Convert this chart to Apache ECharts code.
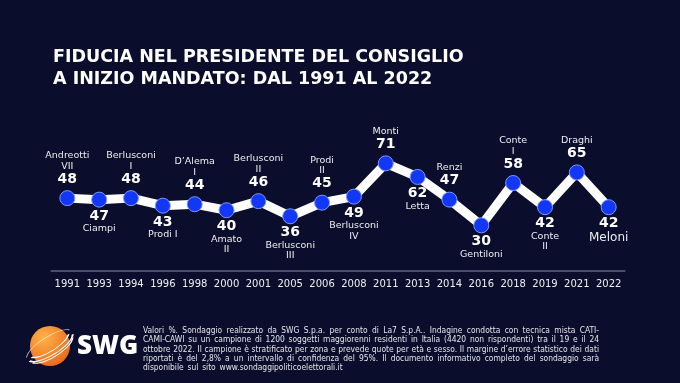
<!DOCTYPE html>
<html>
<head>
<meta charset="utf-8">
<script src="https://cdn.jsdelivr.net/npm/echarts@6/dist/echarts.min.js"></script>
<style>
html,body{margin:0;padding:0;background:#0a0d2b;}
#c{width:680px;height:383px;}
</style>
</head>
<body>
<div id="c"></div>
<script>
const years = ['1991','1993','1994','1996','1998','2000','2001','2005','2006','2008','2011','2013','2014','2016','2018','2019','2021','2022'];
const values = [48,47,48,43,44,40,46,36,45,49,71,62,47,30,58,42,65,42];
const leaders = ['Andreotti\nVII','Ciampi','Berlusconi\nI','Prodi I','D\u2019Alema\nI','Amato\nII','Berlusconi\nII','Berlusconi\nIII','Prodi\nII','Berlusconi\nIV','Monti','Letta','Renzi','Gentiloni','Conte\nI','Conte\nII','Draghi','Meloni'];
const labelSide = ['top','bottom','top','bottom','top','bottom','top','bottom','top','bottom','top','bottom','top','bottom','top','bottom','top','bottom'];
const titleText = 'FIDUCIA NEL PRESIDENTE DEL CONSIGLIO\nA INIZIO MANDATO: DAL 1991 AL 2022';
const footerLines = [
  'Valori %. Sondaggio realizzato da SWG S.p.a. per conto di La7 S.p.A.. Indagine condotta con tecnica mista CATI-',
  'CAMI-CAWI su un campione di 1200 soggetti maggiorenni residenti in Italia (4420 non rispondenti) tra il 19 e il 24',
  'ottobre 2022. Il campione \u00e8 stratificato per zona e prevede quote per et\u00e0 e sesso. Il margine d\u2019errore statistico dei dati',
  'riportati \u00e8 del 2,8% a un intervallo di confidenza del 95%. Il documento informativo completo del sondaggio sar\u00e0',
  'disponibile sul sito www.sondaggipoliticoelettorali.it'
];

const chart = echarts.init(document.getElementById('c'), null, {renderer:'canvas'});
const last = values.length - 1;

function fmt(i){
  const st = i === last ? 'm' : 'n';
  const names = leaders[i].split('\n').map(l => '{' + st + '|' + l + '}');
  const val = '{v|' + values[i] + '}';
  return labelSide[i] === 'top' ? names.concat([val]).join('\n') : [val].concat(names).join('\n');
}

const data = values.map((v, i) => ({
  value: v,
  label: {
    position: labelSide[i],
    distance: labelSide[i] === 'top' ? 3.5 : 1,
    formatter: fmt(i)
  }
}));

// footer justified text
const footFont = '8.4px "DejaVu Sans Condensed", "DejaVu Sans"';
const ctx = document.createElement('canvas').getContext('2d');
ctx.font = footFont;
const fx0 = 143, fx1 = 599, fy0 = 331, fdy = 9.2;
const footerEls = [];
footerLines.forEach((line, li) => {
  const words = line.split(' ');
  const widths = words.map(w => ctx.measureText(w).width);
  const total = widths.reduce((a,b)=>a+b,0);
  const justify = li < footerLines.length - 1;
  const gap = justify ? (fx1 - fx0 - total) / (words.length - 1) : ctx.measureText(' ').width * 1.6;
  let x = fx0;
  words.forEach((w, wi) => {
    footerEls.push({type:'text', x: x, y: fy0 + li*fdy, style:{text:w, fill:'#e6e6ea', font: footFont, textVerticalAlign:'middle'}});
    x += widths[wi] + gap;
  });
});

// logo
const logo = [
  {type:'circle', shape:{cx:50, cy:346, r:20}, style:{fill:new echarts.graphic.RadialGradient(0.35,0.3,0.8,[{offset:0,color:'#ffb347'},{offset:1,color:'#e8641c'}])}},
  {type:'group', x:50, y:346, rotation:0.55, children:[
    {type:'arc', shape:{cx:0, cy:0, r:26, startAngle:0.2, endAngle:2.9}, scaleY:0.35, style:{stroke:'#ffffff', lineWidth:2.4, fill:null}},
    {type:'arc', shape:{cx:0, cy:-8, r:23, startAngle:0.3, endAngle:2.8}, scaleY:0.35, style:{stroke:'#ffffff', lineWidth:2.2, fill:null}},
    {type:'arc', shape:{cx:0, cy:9, r:24, startAngle:0.2, endAngle:2.9}, scaleY:0.35, style:{stroke:'#ffffff', lineWidth:2.2, fill:null}},
    {type:'arc', shape:{cx:0, cy:0, r:27, startAngle:3.4, endAngle:5.9}, scaleY:0.35, style:{stroke:'rgba(255,255,255,0.75)', lineWidth:1.3, fill:null}}
  ]},
  {type:'text', x:77, y:347, style:{text:'SWG', fill:'#ffffff', font:'800 26px "Open Sans", "DejaVu Sans"', textVerticalAlign:'middle'}}
];

chart.setOption({
  backgroundColor:'#0a0d2b',
  animation:false,
  title:{
    text:titleText, left:53, top:47, padding:0,
    textStyle:{color:'#ffffff', fontFamily:'DejaVu Sans', fontWeight:'bold', fontSize:17.5, lineHeight:21.7}
  },
  grid:{left:51.4, right:55.4, top:119.5, bottom:112.3},
  xAxis:{
    type:'category', data:years, boundaryGap:true,
    axisLine:{lineStyle:{color:'#4a4e6a', width:2}},
    axisTick:{show:false},
    axisLabel:{color:'#f0f0f0', fontFamily:'DejaVu Sans', fontSize:10, margin:9, interval:0}
  },
  yAxis:{type:'value', min:0, max:100, show:false, splitLine:{show:false}},
  series:[{
    type:'line', data:data,
    symbol:'circle', symbolSize:15,
    lineStyle:{color:'#ffffff', width:9},
    itemStyle:{color:'#1238f5', borderColor:'#7d95ff', borderWidth:1},
    label:{
      show:true, color:'#ffffff', align:'center',
      rich:{
        v:{fontFamily:'DejaVu Sans', fontWeight:'bold', fontSize:14, lineHeight:15, color:'#ffffff', align:'center'},
        n:{fontFamily:'DejaVu Sans', fontSize:9.5, lineHeight:10.5, color:'#eeeeee', align:'center'},
        m:{fontFamily:'DejaVu Sans', fontSize:12, lineHeight:14, color:'#eeeeee', align:'center'}
      }
    }
  }],
  graphic: logo.concat(footerEls)
});
</script>
</body>
</html>
